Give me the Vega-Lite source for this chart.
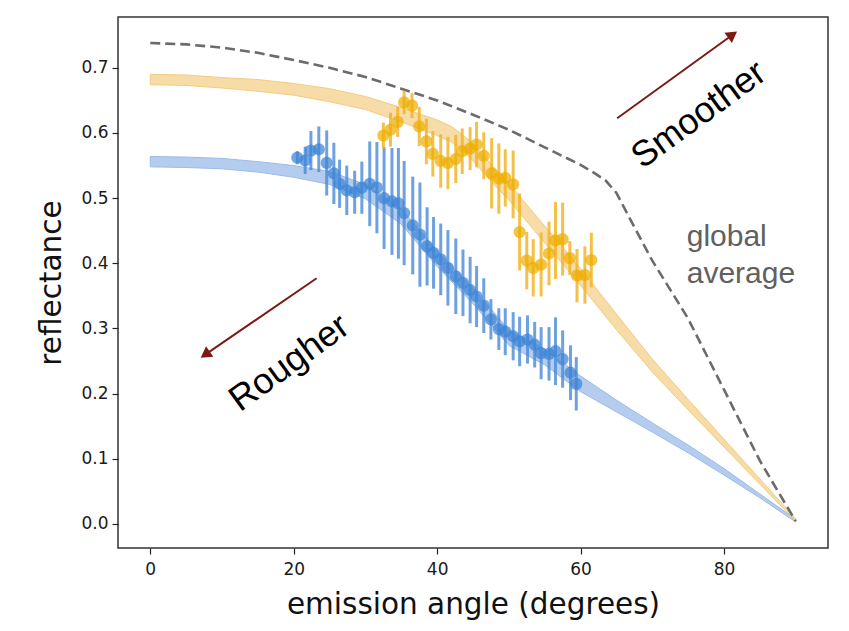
{
  "$schema": "https://vega.github.io/schema/vega-lite/v6.json",
  "width": 710,
  "height": 531,
  "autosize": {"type": "none"},
  "padding": {"left": 118, "top": 17, "right": 21, "bottom": 83},
  "background": "white",
  "config": {
    "view": {"stroke": "#333333", "strokeWidth": 1.5},
    "axis": {
      "grid": false,
      "domain": false,
      "tickColor": "#222222",
      "tickSize": 6,
      "tickWidth": 1.2,
      "labelFont": "DejaVu Sans",
      "labelFontSize": 17,
      "labelColor": "#1a1a1a",
      "titleFont": "DejaVu Sans",
      "titleFontSize": 29.5,
      "titleFontWeight": "normal",
      "titleColor": "#111111"
    }
  },
  "datasets": {
    "blueBand": [
      {"angle": 0, "lo": 0.548, "hi": 0.564},
      {"angle": 5, "lo": 0.547, "hi": 0.563},
      {"angle": 10, "lo": 0.545, "hi": 0.561},
      {"angle": 15, "lo": 0.540, "hi": 0.556},
      {"angle": 20, "lo": 0.532, "hi": 0.550},
      {"angle": 25, "lo": 0.521, "hi": 0.541},
      {"angle": 30, "lo": 0.499, "hi": 0.521},
      {"angle": 35, "lo": 0.460, "hi": 0.484},
      {"angle": 40, "lo": 0.395, "hi": 0.419},
      {"angle": 45, "lo": 0.338, "hi": 0.362},
      {"angle": 50, "lo": 0.274, "hi": 0.298},
      {"angle": 55, "lo": 0.244, "hi": 0.268},
      {"angle": 60, "lo": 0.203, "hi": 0.227},
      {"angle": 65, "lo": 0.172, "hi": 0.190},
      {"angle": 70, "lo": 0.141, "hi": 0.155},
      {"angle": 75, "lo": 0.109, "hi": 0.121},
      {"angle": 80, "lo": 0.075, "hi": 0.085},
      {"angle": 85, "lo": 0.040, "hi": 0.046},
      {"angle": 90, "lo": 0.003, "hi": 0.007}
    ],
    "yellowBand": [
      {"angle": 0, "lo": 0.674, "hi": 0.690},
      {"angle": 5, "lo": 0.673, "hi": 0.689},
      {"angle": 10, "lo": 0.669, "hi": 0.685},
      {"angle": 15, "lo": 0.664, "hi": 0.682},
      {"angle": 20, "lo": 0.658, "hi": 0.676},
      {"angle": 25, "lo": 0.648, "hi": 0.668},
      {"angle": 30, "lo": 0.636, "hi": 0.656},
      {"angle": 35, "lo": 0.617, "hi": 0.639},
      {"angle": 40, "lo": 0.596, "hi": 0.620},
      {"angle": 42, "lo": 0.586, "hi": 0.610},
      {"angle": 44.6, "lo": 0.562, "hi": 0.588},
      {"angle": 48, "lo": 0.520, "hi": 0.546},
      {"angle": 50, "lo": 0.497, "hi": 0.523},
      {"angle": 54.4, "lo": 0.439, "hi": 0.465},
      {"angle": 57.2, "lo": 0.403, "hi": 0.429},
      {"angle": 60, "lo": 0.366, "hi": 0.392},
      {"angle": 65, "lo": 0.298, "hi": 0.322},
      {"angle": 70, "lo": 0.233, "hi": 0.253},
      {"angle": 75, "lo": 0.175, "hi": 0.191},
      {"angle": 80, "lo": 0.118, "hi": 0.130},
      {"angle": 85, "lo": 0.061, "hi": 0.069},
      {"angle": 90, "lo": 0.004, "hi": 0.008}
    ],
    "globalAvg": [
      {"angle": 0, "r": 0.738},
      {"angle": 5, "r": 0.736},
      {"angle": 10, "r": 0.731},
      {"angle": 15, "r": 0.723},
      {"angle": 20, "r": 0.712},
      {"angle": 25, "r": 0.700},
      {"angle": 30, "r": 0.686},
      {"angle": 35, "r": 0.668},
      {"angle": 40, "r": 0.650},
      {"angle": 45, "r": 0.628},
      {"angle": 50, "r": 0.605},
      {"angle": 55, "r": 0.578},
      {"angle": 60, "r": 0.551},
      {"angle": 62, "r": 0.538},
      {"angle": 63.5, "r": 0.527},
      {"angle": 65, "r": 0.508},
      {"angle": 67, "r": 0.466},
      {"angle": 70, "r": 0.404},
      {"angle": 75, "r": 0.315},
      {"angle": 80, "r": 0.206},
      {"angle": 85, "r": 0.097},
      {"angle": 90, "r": 0.004}
    ],
    "blueObs": [
      {"angle": 20.5, "r": 0.562, "err": 0.010},
      {"angle": 21.6, "r": 0.558, "err": 0.021},
      {"angle": 22.4, "r": 0.573, "err": 0.030},
      {"angle": 23.5, "r": 0.575, "err": 0.035},
      {"angle": 24.6, "r": 0.554, "err": 0.050},
      {"angle": 25.6, "r": 0.538, "err": 0.047},
      {"angle": 26.4, "r": 0.522, "err": 0.037},
      {"angle": 27.4, "r": 0.512, "err": 0.038},
      {"angle": 28.5, "r": 0.509, "err": 0.033},
      {"angle": 29.5, "r": 0.516, "err": 0.040},
      {"angle": 30.6, "r": 0.522, "err": 0.065},
      {"angle": 31.6, "r": 0.516, "err": 0.070},
      {"angle": 32.6, "r": 0.500, "err": 0.078},
      {"angle": 33.7, "r": 0.495, "err": 0.082},
      {"angle": 34.6, "r": 0.492, "err": 0.085},
      {"angle": 35.4, "r": 0.477, "err": 0.080},
      {"angle": 36.6, "r": 0.458, "err": 0.075},
      {"angle": 37.6, "r": 0.444, "err": 0.080},
      {"angle": 38.6, "r": 0.426, "err": 0.060},
      {"angle": 39.5, "r": 0.416, "err": 0.055},
      {"angle": 40.5, "r": 0.406, "err": 0.055},
      {"angle": 41.5, "r": 0.393, "err": 0.058},
      {"angle": 42.6, "r": 0.380, "err": 0.058},
      {"angle": 43.6, "r": 0.370, "err": 0.051},
      {"angle": 44.6, "r": 0.359, "err": 0.051},
      {"angle": 45.5, "r": 0.349, "err": 0.047},
      {"angle": 46.5, "r": 0.335, "err": 0.042},
      {"angle": 47.5, "r": 0.314, "err": 0.031},
      {"angle": 48.6, "r": 0.299, "err": 0.032},
      {"angle": 49.5, "r": 0.295, "err": 0.036},
      {"angle": 50.6, "r": 0.288, "err": 0.037},
      {"angle": 51.5, "r": 0.280, "err": 0.038},
      {"angle": 52.6, "r": 0.283, "err": 0.037},
      {"angle": 53.6, "r": 0.275, "err": 0.035},
      {"angle": 54.5, "r": 0.262, "err": 0.040},
      {"angle": 55.6, "r": 0.261, "err": 0.041},
      {"angle": 56.5, "r": 0.265, "err": 0.052},
      {"angle": 57.5, "r": 0.253, "err": 0.044},
      {"angle": 58.6, "r": 0.232, "err": 0.042},
      {"angle": 59.4, "r": 0.215, "err": 0.041}
    ],
    "yellowObs": [
      {"angle": 32.5, "r": 0.596, "err": 0.020},
      {"angle": 33.5, "r": 0.605, "err": 0.026},
      {"angle": 34.5, "r": 0.617, "err": 0.023},
      {"angle": 35.4, "r": 0.647, "err": 0.018},
      {"angle": 36.5, "r": 0.642, "err": 0.019},
      {"angle": 37.5, "r": 0.610, "err": 0.030},
      {"angle": 38.5, "r": 0.587, "err": 0.035},
      {"angle": 39.4, "r": 0.568, "err": 0.035},
      {"angle": 40.5, "r": 0.557, "err": 0.041},
      {"angle": 41.5, "r": 0.554, "err": 0.040},
      {"angle": 42.6, "r": 0.560, "err": 0.037},
      {"angle": 43.5, "r": 0.572, "err": 0.035},
      {"angle": 44.6, "r": 0.576, "err": 0.033},
      {"angle": 45.5, "r": 0.582, "err": 0.035},
      {"angle": 46.5, "r": 0.565, "err": 0.036},
      {"angle": 47.6, "r": 0.538, "err": 0.054},
      {"angle": 48.6, "r": 0.530, "err": 0.054},
      {"angle": 49.5, "r": 0.531, "err": 0.044},
      {"angle": 50.6, "r": 0.521, "err": 0.052},
      {"angle": 51.5, "r": 0.448, "err": 0.059},
      {"angle": 52.5, "r": 0.404, "err": 0.044},
      {"angle": 53.4, "r": 0.393, "err": 0.044},
      {"angle": 54.5, "r": 0.398, "err": 0.049},
      {"angle": 55.6, "r": 0.415, "err": 0.049},
      {"angle": 56.5, "r": 0.435, "err": 0.059},
      {"angle": 57.5, "r": 0.437, "err": 0.056},
      {"angle": 58.5, "r": 0.408, "err": 0.026},
      {"angle": 59.5, "r": 0.381, "err": 0.041},
      {"angle": 60.6, "r": 0.382, "err": 0.044},
      {"angle": 61.5, "r": 0.405, "err": 0.042}
    ],
    "smootherArrow": [
      {"angle": 65.1, "r": 0.6226},
      {"angle": 81.2, "r": 0.7508}
    ],
    "smootherHead": [{"angle": 81.2, "r": 0.7508}],
    "rougherArrow": [
      {"angle": 23.2, "r": 0.377},
      {"angle": 7.66, "r": 0.2598}
    ],
    "rougherHead": [{"angle": 7.66, "r": 0.2598}],
    "smootherLabel": [{"angle": 76.5, "r": 0.628, "label": "Smoother"}],
    "rougherLabel": [{"angle": 19.4, "r": 0.247, "label": "Rougher"}],
    "globalLabel": [{"angle": 74.8, "r": 0.44, "label": ["global", "average"]}]
  },
  "encoding": {
    "x": {
      "field": "angle",
      "type": "quantitative",
      "scale": {"domain": [-4.5, 94.5], "nice": false, "zero": false},
      "axis": {"values": [0, 20, 40, 60, 80], "title": "emission angle (degrees)", "labelPadding": 7, "titlePadding": 13}
    },
    "y": {
      "field": "r",
      "type": "quantitative",
      "scale": {"domain": [-0.037, 0.778], "nice": false, "zero": false},
      "axis": {"values": [0, 0.1, 0.2, 0.3, 0.4, 0.5, 0.6, 0.7], "format": ".1f", "title": "reflectance", "labelPadding": 4, "titlePadding": 14}
    }
  },
  "layer": [
    {
      "data": {"name": "blueBand"},
      "mark": {"type": "area", "color": "#a8c4ec", "opacity": 0.85, "stroke": "#8cb0e4", "strokeWidth": 1},
      "encoding": {"y": {"field": "lo", "type": "quantitative"}, "y2": {"field": "hi"}}
    },
    {
      "data": {"name": "yellowBand"},
      "mark": {"type": "area", "color": "#f6d699", "opacity": 0.85, "stroke": "#f0c56c", "strokeWidth": 1},
      "encoding": {"y": {"field": "lo", "type": "quantitative"}, "y2": {"field": "hi"}}
    },
    {
      "data": {"name": "globalAvg"},
      "mark": {"type": "line", "color": "#6b6b6b", "strokeWidth": 2.6, "strokeDash": [10, 5]},
      "encoding": {}
    },
    {
      "data": {"name": "blueObs"},
      "mark": {"type": "errorbar", "color": "#4a8ad8", "opacity": 0.8, "thickness": 3},
      "encoding": {"yError": {"field": "err"}}
    },
    {
      "data": {"name": "blueObs"},
      "mark": {"type": "circle", "color": "#3d83d6", "opacity": 0.72, "size": 150},
      "encoding": {}
    },
    {
      "data": {"name": "yellowObs"},
      "mark": {"type": "errorbar", "color": "#f0b21c", "opacity": 0.8, "thickness": 3},
      "encoding": {"yError": {"field": "err"}}
    },
    {
      "data": {"name": "yellowObs"},
      "mark": {"type": "circle", "color": "#efad00", "opacity": 0.72, "size": 150},
      "encoding": {}
    },
    {
      "data": {"name": "smootherArrow"},
      "mark": {"type": "line", "color": "#7b1a14", "strokeWidth": 2},
      "encoding": {}
    },
    {
      "data": {"name": "smootherHead"},
      "mark": {"type": "point", "shape": "triangle-up", "filled": true, "color": "#7b1a14", "opacity": 1, "size": 160, "angle": 54},
      "encoding": {}
    },
    {
      "data": {"name": "rougherArrow"},
      "mark": {"type": "line", "color": "#7b1a14", "strokeWidth": 2},
      "encoding": {}
    },
    {
      "data": {"name": "rougherHead"},
      "mark": {"type": "point", "shape": "triangle-up", "filled": true, "color": "#7b1a14", "opacity": 1, "size": 160, "angle": 235},
      "encoding": {}
    },
    {
      "data": {"name": "smootherLabel"},
      "mark": {"type": "text", "font": "Liberation Sans", "fontSize": 36, "color": "#000000", "angle": -36, "align": "center", "baseline": "middle"},
      "encoding": {"text": {"field": "label"}}
    },
    {
      "data": {"name": "rougherLabel"},
      "mark": {"type": "text", "font": "Liberation Sans", "fontSize": 36, "color": "#000000", "angle": -36, "align": "center", "baseline": "middle"},
      "encoding": {"text": {"field": "label"}}
    },
    {
      "data": {"name": "globalLabel"},
      "mark": {"type": "text", "font": "Liberation Sans", "fontSize": 30, "color": "#606060", "align": "left", "baseline": "middle", "lineHeight": 37},
      "encoding": {"text": {"field": "label"}}
    }
  ]
}
